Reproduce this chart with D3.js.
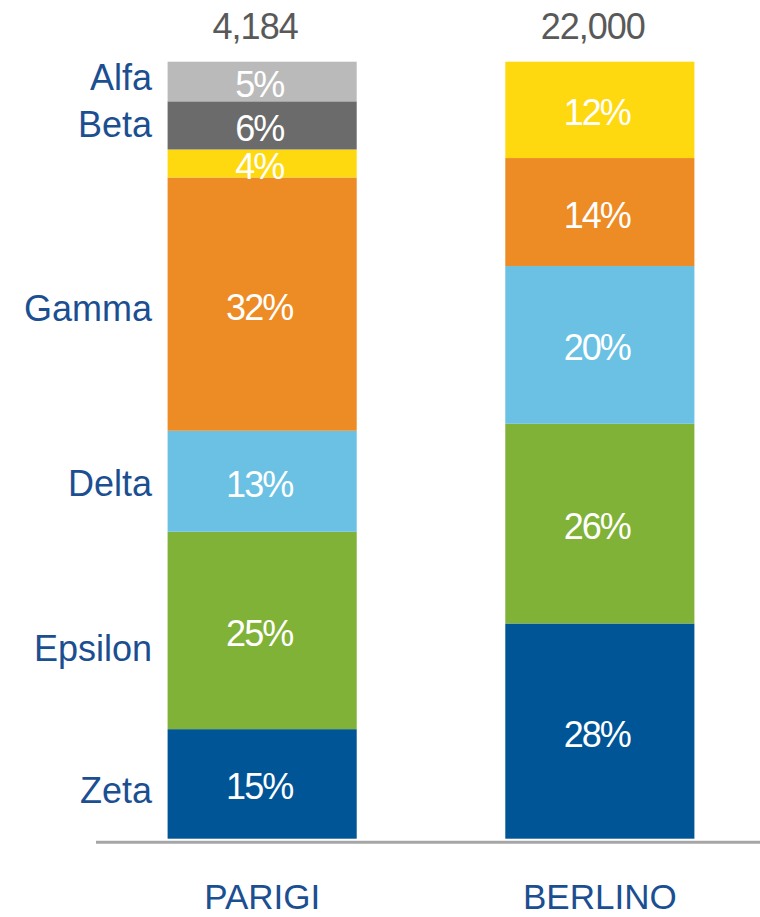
<!DOCTYPE html>
<html>
<head>
<meta charset="utf-8">
<script src="https://cdn.jsdelivr.net/npm/d3@7"></script>
<style>
  body { margin: 0; background: #fff; }
  svg text { font-family: "Liberation Sans", Arial, sans-serif; }
</style>
</head>
<body>
<div id="chart"></div>
<script>
// data (segments listed bottom to top)
const cities = ["PARIGI", "BERLINO"];
const totals = ["4,184", "22,000"];
const seriesNames = ["Zeta", "Epsilon", "Delta", "Gamma", "", "Beta", "Alfa"];
const parigiValues = [14.1, 25.4, 13.0, 32.6, 3.6, 6.2, 5.1];
const berlinoValues = [27.7, 25.7, 20.3, 13.9, 12.4, 0, 0];
const parigiLabels = ["15%", "25%", "13%", "32%", "4%", "6%", "5%"];
const berlinoLabels = ["28%", "26%", "20%", "14%", "12%", "", ""];

// styles
const colors = ["#005596", "#7fb236", "#6ac1e3", "#ed8b25", "#ffd910", "#6b6b6b", "#bababa"];
const nameNudge = [6, 18, 2, 4, 0, -1, -5]; // small vertical shifts of the left names
const width = 760, height = 917;

const keys = seriesNames.map((d, i) => 's' + i);
const rows = cities.map((c, ci) => {
  const vals = ci === 0 ? parigiValues : berlinoValues;
  const row = { city: c };
  keys.forEach((k, i) => row[k] = vals[i]);
  return row;
});
const labelsByCity = [parigiLabels, berlinoLabels];

const stacked = d3.stack().keys(keys)(rows);

const svg = d3.select('#chart')
  .append('svg')
  .attr('width', width)
  .attr('height', height);

const x = d3.scaleBand()
  .domain(cities)
  .range([-1.25, 863.25])
  .paddingInner(0.44)
  .paddingOuter(0.5);

const y = d3.scaleLinear()
  .domain([0, 100])
  .range([838.7, 61.7]);

// bars
const layer = svg.append('g')
  .selectAll('g')
  .data(stacked)
  .enter()
  .append('g')
  .attr('fill', (d, i) => colors[i]);

layer.selectAll('rect')
  .data(d => d)
  .enter()
  .filter(d => d[1] - d[0] > 0)
  .append('rect')
  .attr('x', d => x(d.data.city))
  .attr('y', d => y(d[1]))
  .attr('width', x.bandwidth())
  .attr('height', d => y(d[0]) - y(d[1]));

// percent labels inside segments
layer.each(function (s, si) {
  d3.select(this).selectAll('text')
    .data(s)
    .enter()
    .filter((d, ci) => labelsByCity[ci][si] !== '')
    .append('text')
    .attr('x', d => x(d.data.city) + x.bandwidth() / 2 - 3)
    .attr('y', d => (y(d[0]) + y(d[1])) / 2 + 15.5)
    .attr('text-anchor', 'middle')
    .attr('fill', '#fff')
    .style('font-size', '36px')
    .style('letter-spacing', '-2px')
    .text(d => labelsByCity[cities.indexOf(d.data.city)][si]);
});

// series names on the left, next to the first bar
svg.append('g')
  .selectAll('text')
  .data(stacked.filter((s, i) => seriesNames[i] !== ''))
  .enter()
  .append('text')
  .attr('x', 152)
  .attr('y', s => {
    const seg = s[0];
    return (y(seg[0]) + y(seg[1])) / 2 + 13 + nameNudge[s.index];
  })
  .attr('text-anchor', 'end')
  .attr('fill', '#1b4f91')
  .style('font-size', '36px')
  .text(s => seriesNames[s.index]);

// totals above bars
svg.append('g')
  .selectAll('text')
  .data(cities)
  .enter()
  .append('text')
  .attr('x', d => x(d) + x.bandwidth() / 2 - 7)
  .attr('y', 39)
  .attr('text-anchor', 'middle')
  .attr('fill', '#595959')
  .style('font-size', '36px')
  .style('letter-spacing', '-1px')
  .text((d, i) => totals[i]);

// baseline
svg.append('line')
  .attr('x1', 96)
  .attr('x2', width)
  .attr('y1', y(0) + 3.5)
  .attr('y2', y(0) + 3.5)
  .attr('stroke', '#a6a6a6')
  .attr('stroke-width', 3);

// category axis (no ticks, no domain line)
const xAxis = svg.append('g')
  .attr('transform', `translate(0,${y(0)})`)
  .call(d3.axisBottom(x).tickSize(0).tickPadding(0));
xAxis.select('.domain').remove();
xAxis.selectAll('text')
  .attr('dy', null)
  .attr('y', 70)
  .attr('fill', '#1b4f91')
  .style('font-family', '"Liberation Sans", Arial, sans-serif')
  .style('font-size', '35px');
</script>
</body>
</html>
